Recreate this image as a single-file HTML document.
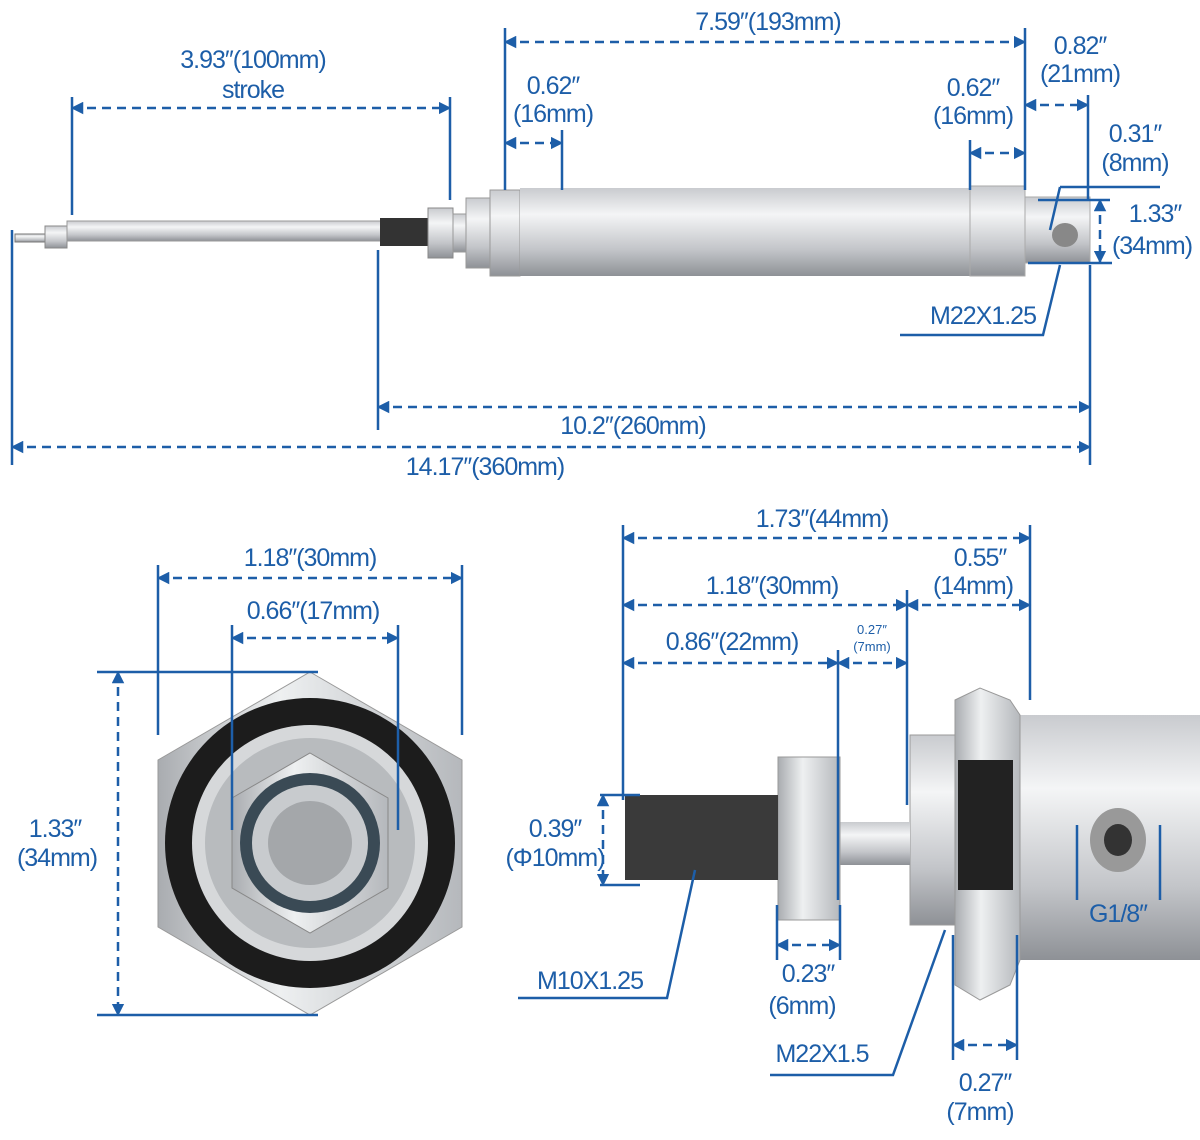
<!DOCTYPE html>
<html><head><style>
html,body{margin:0;padding:0;background:#fff;width:1200px;height:1140px;overflow:hidden}
svg text{font-family:"Liberation Sans",sans-serif;fill:#1d5ea8;font-size:25px;text-anchor:middle;letter-spacing:-1px}
.d{stroke:#1d5ea8;stroke-width:2.5;stroke-dasharray:9 6;fill:none;marker-start:url(#a);marker-end:url(#a)}
.s{stroke:#1d5ea8;stroke-width:2.5;fill:none}
</style></head><body>
<svg width="1200" height="1140" viewBox="0 0 1200 1140" xmlns="http://www.w3.org/2000/svg">
<defs>
<marker id="a" viewBox="0 0 10 10" refX="9" refY="5" markerWidth="5" markerHeight="5" orient="auto-start-reverse"><path d="M0 0L10 5L0 10z" fill="#1d5ea8"/></marker>
<linearGradient id="g" x1="0" y1="0" x2="0" y2="1">
<stop offset="0" stop-color="#c9cbcf"/><stop offset="0.3" stop-color="#f4f5f6"/><stop offset="0.7" stop-color="#c3c5c9"/><stop offset="1" stop-color="#8e9196"/>
</linearGradient>
<linearGradient id="gv" x1="0" y1="0" x2="1" y2="0">
<stop offset="0" stop-color="#a9acb0"/><stop offset="0.4" stop-color="#eef0f1"/><stop offset="1" stop-color="#b5b8bc"/>
</linearGradient>
</defs>
<!-- TOP CYLINDER -->
<rect x="15" y="234" width="30" height="8" fill="url(#g)" stroke="#777"/>
<rect x="45" y="226" width="22" height="22" fill="url(#g)" stroke="#888"/>
<rect x="67" y="221" width="315" height="20" fill="url(#g)" stroke="#999"/>
<rect x="380" y="218" width="48" height="28" fill="#333"/>
<rect x="428" y="208" width="25" height="50" fill="url(#g)" stroke="#888"/>
<rect x="453" y="214" width="15" height="38" fill="url(#g)" stroke="#999"/>
<rect x="466" y="198" width="30" height="70" fill="url(#g)" stroke="#999"/>
<rect x="490" y="190" width="30" height="86" fill="url(#g)" stroke="#999"/>
<rect x="520" y="188" width="450" height="88" fill="url(#g)"/>
<rect x="970" y="186" width="55" height="90" fill="url(#g)" stroke="#aaa"/>
<rect x="1025" y="197" width="65" height="66" fill="url(#g)" stroke="#aaa"/>
<ellipse cx="1065" cy="235" rx="13" ry="12" fill="#888"/>
<!-- top dims -->
<line class="d" x1="72" y1="108" x2="450" y2="108"/>
<line class="d" x1="505" y1="42" x2="1025" y2="42"/>
<line class="d" x1="505" y1="143" x2="562" y2="143"/>
<line class="d" x1="970" y1="153" x2="1025" y2="153"/>
<line class="d" x1="1025" y1="105" x2="1088" y2="105"/>
<line class="d" x1="1100" y1="200" x2="1100" y2="262"/>
<line class="d" x1="378" y1="407" x2="1090" y2="407"/>
<line class="d" x1="12" y1="447" x2="1090" y2="447"/>
<path class="s" d="M72 97V215M450 97V200M505 28V190M1025 28V190M562 130V190M970 140V190M1088 95V200M1060 187H1160M1060 187L1050 230M1038 200H1110M1028 263H1112M900 335H1043L1060 265M378 250V430M1090 265V465M12 230V465"/>
<text x="253" y="68">3.93″(100mm)</text><text x="253" y="98">stroke</text>
<text x="768" y="30">7.59″(193mm)</text>
<text x="553" y="94">0.62″</text><text x="553" y="122">(16mm)</text>
<text x="973" y="96">0.62″</text><text x="973" y="124">(16mm)</text>
<text x="1080" y="54">0.82″</text><text x="1080" y="82">(21mm)</text>
<text x="1135" y="142">0.31″</text><text x="1135" y="171">(8mm)</text>
<text x="1155" y="222">1.33″</text><text x="1152" y="254">(34mm)</text>
<text x="983" y="324">M22X1.25</text>
<text x="633" y="434">10.2″(260mm)</text>
<text x="485" y="475">14.17″(360mm)</text>
<!-- BOTTOM LEFT END VIEW -->
<polygon points="310,672 462,760 462,927 310,1015 158,927 158,760" fill="url(#gv)" stroke="#999"/>
<circle cx="310" cy="843" r="145" fill="#1c1c1c"/>
<circle cx="310" cy="843" r="118" fill="#d6d8da"/>
<circle cx="310" cy="843" r="105" fill="#b8bbbe"/>
<polygon points="310,753 388,798 388,888 310,933 232,888 232,798" fill="url(#gv)" stroke="#888"/>
<circle cx="310" cy="843" r="70" fill="#3a4a55"/>
<circle cx="310" cy="843" r="58" fill="#c8cbce"/>
<circle cx="310" cy="843" r="42" fill="#a4a7aa"/>
<line class="d" x1="158" y1="578" x2="462" y2="578"/>
<line class="d" x1="232" y1="638" x2="398" y2="638"/>
<line class="d" x1="118" y1="672" x2="118" y2="1015"/>
<path class="s" d="M158 565V735M462 565V735M232 625V830M398 625V830M97 672H318M97 1015H318"/>
<text x="310" y="566">1.18″(30mm)</text>
<text x="313" y="619">0.66″(17mm)</text>
<text x="55" y="837">1.33″</text><text x="57" y="866">(34mm)</text>
<!-- BOTTOM RIGHT -->
<rect x="1020" y="715" width="180" height="245" fill="url(#g)"/>
<ellipse cx="1118" cy="840" rx="28" ry="32" fill="#999"/><ellipse cx="1118" cy="840" rx="14" ry="16" fill="#333"/>
<rect x="910" y="735" width="45" height="190" fill="url(#g)" stroke="#999"/>
<polygon points="955,700 980,688 1010,700 1020,715 1020,960 1010,985 980,1000 955,985" fill="url(#gv)" stroke="#999"/>
<rect x="958" y="760" width="55" height="130" fill="#222"/>
<rect x="840" y="822" width="70" height="43" fill="url(#g)"/>
<rect x="778" y="757" width="62" height="163" fill="url(#gv)" stroke="#999"/>
<rect x="625" y="795" width="153" height="85" fill="#3a3a3a"/>
<line class="d" x1="623" y1="538" x2="1030" y2="538"/>
<line class="d" x1="623" y1="605" x2="907" y2="605"/>
<line class="d" x1="907" y1="605" x2="1030" y2="605"/>
<line class="d" x1="623" y1="663" x2="838" y2="663"/>
<line class="d" x1="838" y1="663" x2="907" y2="663"/>
<line class="d" x1="603" y1="795" x2="603" y2="885"/>
<line class="d" x1="777" y1="945" x2="840" y2="945"/>
<line class="d" x1="953" y1="1045" x2="1017" y2="1045"/>
<path class="s" d="M623 525V800M1030 525V700M907 590V805M838 650V900M600 795H640M600 885H640M518 998H667L695 870M777 905V960M840 905V960M770 1075H893L945 930M953 935V1060M1017 935V1060M1077 825V900M1160 825V900"/>
<text x="822" y="527">1.73″(44mm)</text>
<text x="772" y="594">1.18″(30mm)</text>
<text x="980" y="566">0.55″</text><text x="973" y="594">(14mm)</text>
<text x="732" y="650">0.86″(22mm)</text>
<text x="872" y="634" style="font-size:13px;letter-spacing:0">0.27″</text><text x="872" y="651" style="font-size:13px;letter-spacing:0">(7mm)</text>
<text x="555" y="837">0.39″</text><text x="555" y="866">(Φ10mm)</text>
<text x="590" y="989">M10X1.25</text>
<text x="808" y="982">0.23″</text><text x="802" y="1014">(6mm)</text>
<text x="822" y="1062">M22X1.5</text>
<text x="985" y="1091">0.27″</text><text x="980" y="1120">(7mm)</text>
<text x="1118" y="922">G1/8″</text>
</svg>
</body></html>
